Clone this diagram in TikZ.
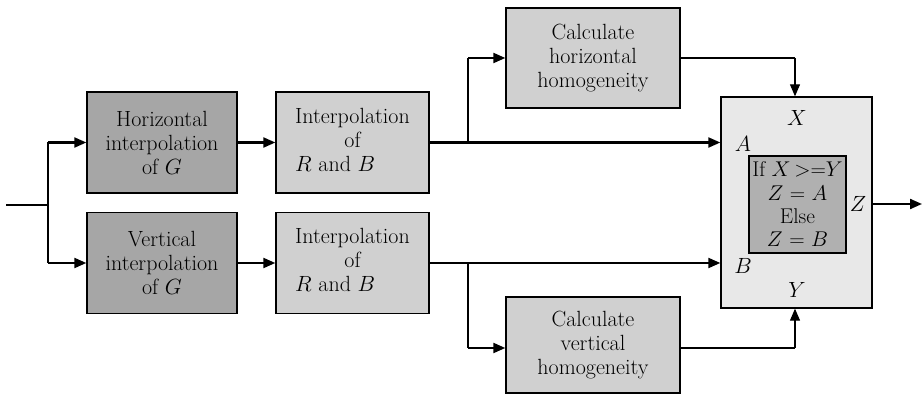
\RequirePackage{fix-cm}
\documentclass[tikz,border=0pt]{standalone}
\usepackage{fontspec}
\usepackage{tikz}
\usetikzlibrary{arrows.meta}

\tikzset{
  blockdark/.style={draw=black,line width=1pt,fill={rgb,255:red,166;green,166;blue,166},minimum width=112.5pt,minimum height=75.75pt,inner sep=0pt,align=center,font=\fontsize{16.5}{18}\selectfont},
  blocklight/.style={draw=black,line width=1pt,fill={rgb,255:red,208;green,208;blue,208},inner sep=0pt,align=center,font=\fontsize{16.5}{18}\selectfont},
  flow/.style={line width=1.6pt,-{Triangle[length=9pt,width=7.5pt]}},
  thinline/.style={line width=0.8pt},
  portlbl/.style={font=\fontsize{16.5}{18}\selectfont,inner sep=0pt}
}

\begin{document}
\begin{tikzpicture}[x=0.75pt,y=0.75pt,yscale=-1,xscale=1]
\useasboundingbox (0,0) rectangle (922,395);

% Blocks
\node [blockdark] (hinterp) at (162,142.5) {Horizontal\\interpolation\\of $G$};
\node [blockdark] (vinterp) at (162,263) {Vertical\\interpolation\\of $G$};
\node [blocklight,minimum width=114.75pt,minimum height=75.75pt] (hrb) at (352.5,142.5) {\begin{tabular}{@{}l@{}}Interpolation\\\multicolumn{1}{@{}c@{}}{of}\\$R$ and $B$\end{tabular}};
\node [blocklight,minimum width=114.75pt,minimum height=75.75pt] (vrb) at (352.5,263) {\begin{tabular}{@{}l@{}}Interpolation\\\multicolumn{1}{@{}c@{}}{of}\\$R$ and $B$\end{tabular}};
\node [blocklight,minimum width=130.5pt,minimum height=75pt] (hhom) at (593,58) {Calculate\\horizontal\\homogeneity};
\node [blocklight,minimum width=130.5pt,minimum height=72pt] (vhom) at (593,345) {Calculate\\vertical\\homogeneity};
\node [draw=black,line width=1pt,fill={rgb,255:red,232;green,232;blue,232},minimum width=113.25pt,minimum height=158.25pt,inner sep=0pt] (select) at (796.5,202.5) {};
\node [draw=black,line width=1pt,fill={rgb,255:red,176;green,176;blue,176},minimum width=72.75pt,minimum height=72.75pt,inner sep=0pt,align=center,font=\fontsize{16}{17.5}\selectfont] (rule) at (797.5,204.5) {If $X$\,>=$Y$\\$Z$ = $A$\\Else\\$Z$ = $B$};

% Port labels
\node [portlbl] (lx) at (797,118) {$X$};
\node [portlbl] (ly) at (797,290) {$Y$};
\node [portlbl] (la) at (743,144) {$A$};
\node [portlbl] (lb) at (743,266) {$B$};
\node [portlbl] (lz) at (858,204) {$Z$};

% Input split
\coordinate (in) at (6,205);
\coordinate (split) at (48,205);
\coordinate (splitup) at (48,142.5);
\coordinate (splitdn) at (48,263);
\draw [thinline] (in) -- (split);
\draw [thinline] (splitup) -- (splitdn);
\draw [flow] (splitup) -- (hinterp.west);
\draw [flow] (splitdn) -- (vinterp.west);

% Interpolation chain
\draw [flow] (hinterp) -- (hrb);
\draw [flow] (vinterp) -- (vrb);
\draw [flow] (hrb.east) -- (select.west |- hrb.east);
\draw [flow] (vrb.east) -- (select.west |- vrb.east);

% Homogeneity branches
\coordinate (hbr) at (468,142.5);
\coordinate (hcorner) at (468,58);
\coordinate (vbr) at (468,263);
\coordinate (vcorner) at (468,348);
\draw [thinline] (hbr) -- (hcorner);
\draw [flow] (hcorner) -- (hhom.west |- hcorner);
\draw [thinline] (vbr) -- (vcorner);
\draw [flow] (vcorner) -- (vhom.west |- vcorner);

% Homogeneity to selector
\coordinate (xtop) at (795,58);
\coordinate (ybot) at (795,348);
\draw [thinline] (hhom.east) -- (xtop);
\draw [thinline,-{Triangle[length=9pt,width=7.5pt]}] (xtop) -- (xtop |- select.north);
\draw [thinline] (vhom.east |- ybot) -- (ybot);
\draw [thinline,-{Triangle[length=9pt,width=7.5pt]}] (ybot) -- (ybot |- select.south);

% Output
\coordinate (out) at (922,204);
\draw [flow] (select.east |- out) -- (out);

\end{tikzpicture}
\end{document}
